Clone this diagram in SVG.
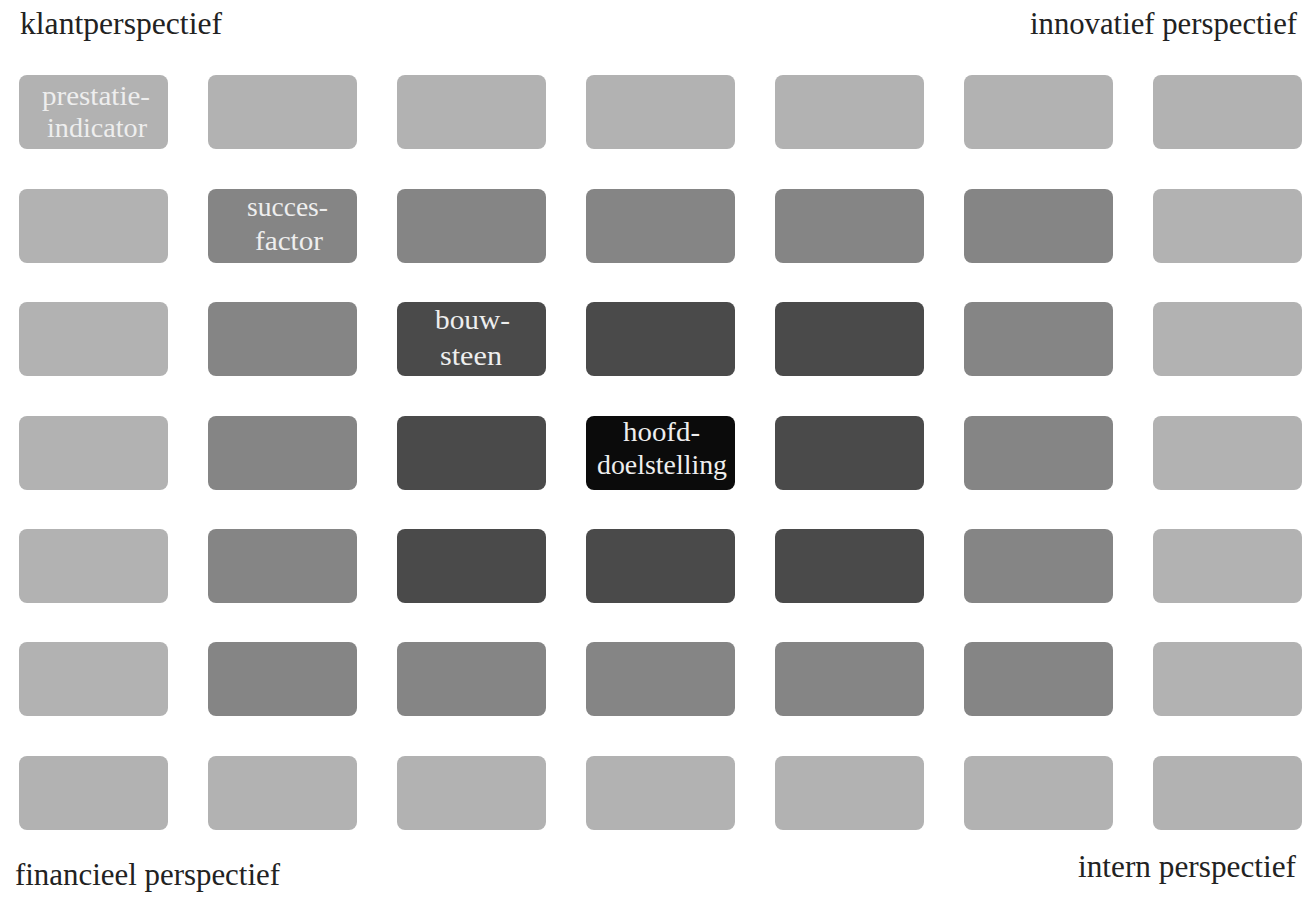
<svg xmlns="http://www.w3.org/2000/svg" width="1308" height="897" viewBox="0 0 1308 897">
<style>
.b{stroke:none}
.l{fill:#b2b2b2}
.m{fill:#858585}
.d{fill:#4a4a4a}
.k{fill:#0b0b0b}
.t{font-family:'Liberation Serif',Tinos,'DejaVu Serif',serif;font-size:27px;fill:#eeeeee;text-anchor:middle}
.h{font-family:'Liberation Serif',Tinos,'DejaVu Serif',serif;font-size:32px;fill:#222222}
</style>
<rect width="1308" height="897" fill="#ffffff"/>
<g id="labels">
<text class="h" x="20" y="34" textLength="202" lengthAdjust="spacingAndGlyphs">klantperspectief</text>
<text class="h" x="1297" y="34" text-anchor="end" textLength="267" lengthAdjust="spacingAndGlyphs">innovatief perspectief</text>
<text class="h" x="15" y="885" textLength="265" lengthAdjust="spacingAndGlyphs">financieel perspectief</text>
<text class="h" x="1296" y="877" text-anchor="end" textLength="218" lengthAdjust="spacingAndGlyphs">intern perspectief</text>
</g>
<g id="connectors"></g>
<g id="n00"><rect class="b l" x="19" y="75" width="149" height="74" rx="8"/><text class="t" x="96" y="105" textLength="108" lengthAdjust="spacingAndGlyphs">prestatie-</text><text class="t" x="97" y="137" textLength="100" lengthAdjust="spacingAndGlyphs">indicator</text></g>
<g id="n01"><rect class="b l" x="208" y="75" width="149" height="74" rx="8"/></g>
<g id="n02"><rect class="b l" x="397" y="75" width="149" height="74" rx="8"/></g>
<g id="n03"><rect class="b l" x="586" y="75" width="149" height="74" rx="8"/></g>
<g id="n04"><rect class="b l" x="775" y="75" width="149" height="74" rx="8"/></g>
<g id="n05"><rect class="b l" x="964" y="75" width="149" height="74" rx="8"/></g>
<g id="n06"><rect class="b l" x="1153" y="75" width="149" height="74" rx="8"/></g>
<g id="n10"><rect class="b l" x="19" y="189" width="149" height="74" rx="8"/></g>
<g id="n11"><rect class="b m" x="208" y="189" width="149" height="74" rx="8"/><text class="t" x="287.5" y="216" textLength="81" lengthAdjust="spacingAndGlyphs">succes-</text><text class="t" x="289" y="250" textLength="68" lengthAdjust="spacingAndGlyphs">factor</text></g>
<g id="n12"><rect class="b m" x="397" y="189" width="149" height="74" rx="8"/></g>
<g id="n13"><rect class="b m" x="586" y="189" width="149" height="74" rx="8"/></g>
<g id="n14"><rect class="b m" x="775" y="189" width="149" height="74" rx="8"/></g>
<g id="n15"><rect class="b m" x="964" y="189" width="149" height="74" rx="8"/></g>
<g id="n16"><rect class="b l" x="1153" y="189" width="149" height="74" rx="8"/></g>
<g id="n20"><rect class="b l" x="19" y="302" width="149" height="74" rx="8"/></g>
<g id="n21"><rect class="b m" x="208" y="302" width="149" height="74" rx="8"/></g>
<g id="n22"><rect class="b d" x="397" y="302" width="149" height="74" rx="8"/><text class="t" x="472.5" y="329" textLength="75" lengthAdjust="spacingAndGlyphs">bouw-</text><text class="t" x="471" y="365" textLength="62" lengthAdjust="spacingAndGlyphs">steen</text></g>
<g id="n23"><rect class="b d" x="586" y="302" width="149" height="74" rx="8"/></g>
<g id="n24"><rect class="b d" x="775" y="302" width="149" height="74" rx="8"/></g>
<g id="n25"><rect class="b m" x="964" y="302" width="149" height="74" rx="8"/></g>
<g id="n26"><rect class="b l" x="1153" y="302" width="149" height="74" rx="8"/></g>
<g id="n30"><rect class="b l" x="19" y="416" width="149" height="74" rx="8"/></g>
<g id="n31"><rect class="b m" x="208" y="416" width="149" height="74" rx="8"/></g>
<g id="n32"><rect class="b d" x="397" y="416" width="149" height="74" rx="8"/></g>
<g id="n33"><rect class="b k" x="586" y="416" width="149" height="74" rx="8"/><text class="t" x="661.5" y="441" textLength="77" lengthAdjust="spacingAndGlyphs">hoofd-</text><text class="t" x="662" y="474" textLength="130" lengthAdjust="spacingAndGlyphs">doelstelling</text></g>
<g id="n34"><rect class="b d" x="775" y="416" width="149" height="74" rx="8"/></g>
<g id="n35"><rect class="b m" x="964" y="416" width="149" height="74" rx="8"/></g>
<g id="n36"><rect class="b l" x="1153" y="416" width="149" height="74" rx="8"/></g>
<g id="n40"><rect class="b l" x="19" y="529" width="149" height="74" rx="8"/></g>
<g id="n41"><rect class="b m" x="208" y="529" width="149" height="74" rx="8"/></g>
<g id="n42"><rect class="b d" x="397" y="529" width="149" height="74" rx="8"/></g>
<g id="n43"><rect class="b d" x="586" y="529" width="149" height="74" rx="8"/></g>
<g id="n44"><rect class="b d" x="775" y="529" width="149" height="74" rx="8"/></g>
<g id="n45"><rect class="b m" x="964" y="529" width="149" height="74" rx="8"/></g>
<g id="n46"><rect class="b l" x="1153" y="529" width="149" height="74" rx="8"/></g>
<g id="n50"><rect class="b l" x="19" y="642" width="149" height="74" rx="8"/></g>
<g id="n51"><rect class="b m" x="208" y="642" width="149" height="74" rx="8"/></g>
<g id="n52"><rect class="b m" x="397" y="642" width="149" height="74" rx="8"/></g>
<g id="n53"><rect class="b m" x="586" y="642" width="149" height="74" rx="8"/></g>
<g id="n54"><rect class="b m" x="775" y="642" width="149" height="74" rx="8"/></g>
<g id="n55"><rect class="b m" x="964" y="642" width="149" height="74" rx="8"/></g>
<g id="n56"><rect class="b l" x="1153" y="642" width="149" height="74" rx="8"/></g>
<g id="n60"><rect class="b l" x="19" y="756" width="149" height="74" rx="8"/></g>
<g id="n61"><rect class="b l" x="208" y="756" width="149" height="74" rx="8"/></g>
<g id="n62"><rect class="b l" x="397" y="756" width="149" height="74" rx="8"/></g>
<g id="n63"><rect class="b l" x="586" y="756" width="149" height="74" rx="8"/></g>
<g id="n64"><rect class="b l" x="775" y="756" width="149" height="74" rx="8"/></g>
<g id="n65"><rect class="b l" x="964" y="756" width="149" height="74" rx="8"/></g>
<g id="n66"><rect class="b l" x="1153" y="756" width="149" height="74" rx="8"/></g>
</svg>
